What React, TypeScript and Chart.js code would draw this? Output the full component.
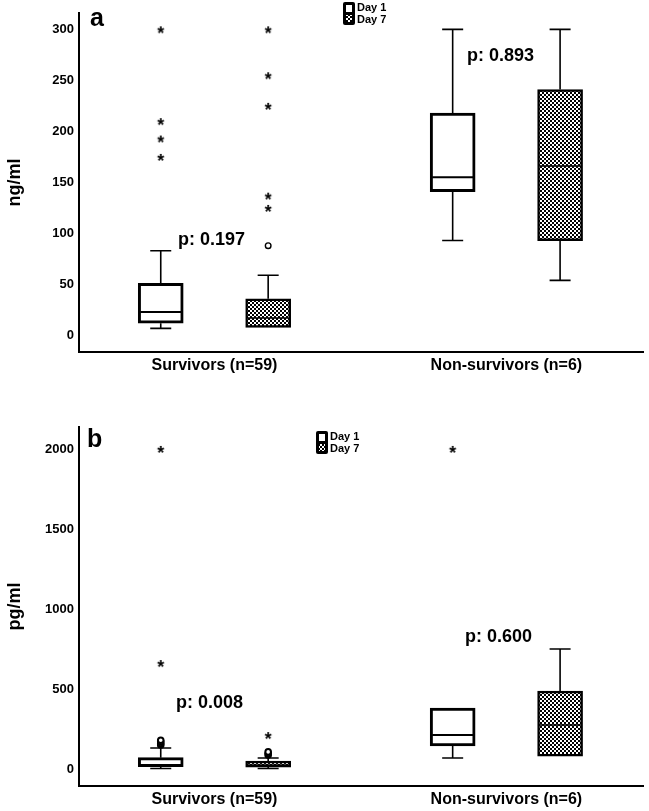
import React, { useEffect, useRef } from "react";
import { Chart, registerables } from "chart.js";
Chart.register(...registerables);

const FONT = "'Liberation Sans', Arial, Helvetica, sans-serif";

// ---------- data ----------
const groups = ["Survivors (n=59)", "Non-survivors (n=6)"];
const groupPositions = [1, 2];

// [lower whisker, Q1, median, Q3, upper whisker]
const aDay1 = [
  [7, 12, 23, 51, 83],
  [93, 141, 155, 218, 300],
];
const aDay7 = [
  [8, 8, 17, 36, 59],
  [54, 93, 166, 241, 300],
];
const aDay1Extremes = [[300, 210, 193, 175], []];
const aDay1Outliers = [[], []];
const aDay7Extremes = [[300, 255, 225, 137, 125], []];
const aDay7Outliers = [[88], []];
const aTicks = [0, 50, 100, 150, 200, 250, 300];
const aPValues = ["p: 0.197", "p: 0.893"];

const bDay1 = [
  [3, 14, 20, 71, 131],
  [69, 144, 212, 381, 381],
];
const bDay7 = [
  [3, 12, 25, 50, 69],
  [81, 81, 275, 487, 750],
];
const bDay1Extremes = [[2000, 662], [2000]];
const bDay1Outliers = [[150, 160, 170, 180], []];
const bDay7Extremes = [[212], []];
const bDay7Outliers = [[87, 97, 107], []];
const bTicks = [0, 500, 1000, 1500, 2000];
const bPValues = ["p: 0.008", "p: 0.600"];

const dayLabels = ["Day 1", "Day 7"];

// ---------- layout / style config ----------
const DAY_OFFSET = 0.184;
const BOX_HALF = 0.077;
const CAP_HALF = 0.036;
const X_MIN = 0.536;
const X_MAX = 2.468;

function makePattern(): CanvasPattern | string {
  const c = document.createElement("canvas");
  c.width = 4;
  c.height = 4;
  const g = c.getContext("2d")!;
  g.fillStyle = "#000";
  g.fillRect(0, 0, 4, 4);
  g.fillStyle = "#fff";
  g.fillRect(0, 0, 2, 2);
  g.fillRect(2, 2, 2, 2);
  return g.createPattern(c, "repeat") ?? "#444";
}

function makeAsterisk(): HTMLCanvasElement {
  const c = document.createElement("canvas");
  c.width = 12;
  c.height = 12;
  const g = c.getContext("2d")!;
  g.fillStyle = "#000";
  g.font = `bold 18px ${FONT}`;
  g.textAlign = "center";
  g.textBaseline = "alphabetic";
  const m = g.measureText("*");
  const asc = m.actualBoundingBoxAscent;
  const desc = m.actualBoundingBoxDescent;
  const y = 6 + (asc - desc) / 2;
  g.fillText("*", 6, y);
  return c;
}

type BoxDef = { pos: number; s: number[]; pattern: boolean };

const boxPlugin = {
  id: "boxWhiskers",
  beforeDatasetsDraw(chart: any, _a: any, opts: any) {
    const { ctx } = chart;
    const x = chart.scales.x;
    const y = chart.scales.y;
    const boxes: BoxDef[] = opts.boxes || [];
    ctx.save();
    ctx.strokeStyle = "#000";
    ctx.lineWidth = 1.6;
    for (const b of boxes) {
      const cx = x.getPixelForValue(b.pos);
      const half = x.getPixelForValue(b.pos + CAP_HALF) - cx;
      const [mn, q1, , q3, mx] = b.s.map((v) => y.getPixelForValue(v));
      ctx.beginPath();
      if (b.s[4] > b.s[3]) {
        ctx.moveTo(cx, q3);
        ctx.lineTo(cx, mx);
        ctx.moveTo(cx - half, mx);
        ctx.lineTo(cx + half, mx);
      }
      if (b.s[0] < b.s[1]) {
        ctx.moveTo(cx, q1);
        ctx.lineTo(cx, mn);
        ctx.moveTo(cx - half, mn);
        ctx.lineTo(cx + half, mn);
      }
      ctx.stroke();
    }
    ctx.restore();
  },
  afterDatasetsDraw(chart: any, _a: any, opts: any) {
    const { ctx } = chart;
    const x = chart.scales.x;
    const y = chart.scales.y;
    const boxes: BoxDef[] = opts.boxes || [];
    ctx.save();
    ctx.strokeStyle = "#000";
    for (const b of boxes) {
      const cx = x.getPixelForValue(b.pos);
      const bh = x.getPixelForValue(b.pos + BOX_HALF) - cx;
      const md = y.getPixelForValue(b.s[2]);
      ctx.lineWidth = b.pattern ? 1.5 : 2;
      ctx.beginPath();
      ctx.moveTo(cx - bh + 2, md);
      ctx.lineTo(cx + bh - 2, md);
      ctx.stroke();
    }
    ctx.restore();
  },
};

const decorPlugin = {
  id: "panelDecor",
  afterDraw(chart: any, _a: any, opts: any) {
    const { ctx } = chart;
    const x = chart.scales.x;
    const y = chart.scales.y;
    ctx.save();
    ctx.fillStyle = "#000";
    // panel letter
    ctx.font = `bold 25px ${FONT}`;
    ctx.textAlign = "left";
    ctx.textBaseline = "alphabetic";
    ctx.fillText(opts.letter, opts.letterX, opts.letterY);
    // p-values
    ctx.font = `bold 18px ${FONT}`;
    ctx.textAlign = "center";
    ctx.textBaseline = "middle";
    for (const p of opts.pTexts) {
      ctx.fillText(p.text, x.getPixelForValue(p.x), y.getPixelForValue(p.y));
    }
    // legend
    const lx = opts.legendX;
    const ly = opts.legendY;
    ctx.beginPath();
    if (ctx.roundRect) ctx.roundRect(lx, ly, 12, 23, 2);
    else ctx.rect(lx, ly, 12, 23);
    ctx.fill();
    ctx.fillStyle = "#fff";
    ctx.fillRect(lx + 3, ly + 3, 6, 7);
    ctx.fillStyle = opts.pattern;
    ctx.fillRect(lx + 3, ly + 13, 6, 7);
    ctx.fillStyle = "#000";
    ctx.font = `bold 11px ${FONT}`;
    ctx.textAlign = "left";
    ctx.textBaseline = "middle";
    ctx.fillText(dayLabels[0], lx + 14, ly + 6);
    ctx.fillText(dayLabels[1], lx + 14, ly + 17.5);
    ctx.restore();
  },
};

type PanelSpec = {
  day1: number[][];
  day7: number[][];
  day1Ext: number[][];
  day1Out: number[][];
  day7Ext: number[][];
  day7Out: number[][];
  ticks: number[];
  yMin: number;
  yMax: number;
  yTitle: string;
  pValues: string[];
  pPos: { x: number; y: number }[];
  letter: string;
  letterX: number;
  letterY: number;
  legendX: number;
  legendY: number;
  padTop: number;
  xAxisH: number;
  circleWidth: number;
};

function buildConfig(sp: PanelSpec, pattern: CanvasPattern | string, star: HTMLCanvasElement): any {
  const pts = (vals: number[][], off: number) =>
    vals.flatMap((arr, gi) => arr.map((v) => ({ x: groupPositions[gi] + off, y: v })));
  const bars = (vals: number[][], off: number) =>
    vals.map((s, gi) => ({ x: groupPositions[gi] + off, y: [s[1], s[3]] }));
  const boxes: BoxDef[] = [
    ...sp.day1.map((s, gi) => ({ pos: groupPositions[gi] - DAY_OFFSET, s, pattern: false })),
    ...sp.day7.map((s, gi) => ({ pos: groupPositions[gi] + DAY_OFFSET, s, pattern: true })),
  ];
  const starStyle = {
    type: "scatter",
    pointStyle: star,
    pointRadius: 5,
    borderColor: "#000",
    backgroundColor: "#000",
  };
  const circStyle = {
    type: "scatter",
    pointStyle: "circle",
    pointRadius: 2.8,
    borderWidth: sp.circleWidth,
    borderColor: "#000",
    backgroundColor: "#fff",
  };
  return {
    type: "bar",
    data: {
      datasets: [
        { ...starStyle, label: "Day 1 extremes", data: pts(sp.day1Ext, -DAY_OFFSET) },
        { ...starStyle, label: "Day 7 extremes", data: pts(sp.day7Ext, DAY_OFFSET) },
        { ...circStyle, label: "Day 1 outliers", data: pts(sp.day1Out, -DAY_OFFSET) },
        { ...circStyle, label: "Day 7 outliers", data: pts(sp.day7Out, DAY_OFFSET) },
        {
          type: "bar",
          label: dayLabels[0],
          data: bars(sp.day1, -DAY_OFFSET),
          backgroundColor: "#fff",
          borderColor: "#000",
          borderWidth: 3,
          borderSkipped: false,
          barThickness: 45,
          grouped: false,
        },
        {
          type: "bar",
          label: dayLabels[1],
          data: bars(sp.day7, DAY_OFFSET),
          backgroundColor: pattern,
          borderColor: "#000",
          borderWidth: 2.5,
          borderSkipped: false,
          barThickness: 45,
          grouped: false,
        },
      ],
    },
    plugins: [boxPlugin, decorPlugin],
    options: {
      responsive: false,
      animation: false,
      devicePixelRatio: 1,
      events: [],
      layout: { padding: { top: sp.padTop, right: 4, left: 0, bottom: 0 } },
      plugins: {
        legend: { display: false },
        tooltip: { enabled: false },
        boxWhiskers: { boxes },
        panelDecor: {
          letter: sp.letter,
          letterX: sp.letterX,
          letterY: sp.letterY,
          legendX: sp.legendX,
          legendY: sp.legendY,
          pattern,
          pTexts: sp.pValues.map((t, i) => ({ text: t, x: sp.pPos[i].x, y: sp.pPos[i].y })),
        },
      },
      scales: {
        x: {
          type: "linear",
          min: X_MIN,
          max: X_MAX,
          offset: false,
          grid: { display: false, drawTicks: false },
          border: { display: true, color: "#000", width: 2 },
          afterBuildTicks: (s: any) => {
            s.ticks = groupPositions.map((v) => ({ value: v }));
          },
          afterFit: (s: any) => {
            s.height = sp.xAxisH;
          },
          ticks: {
            color: "#000",
            font: { family: FONT, size: 16, weight: "bold" },
            padding: 4,
            maxRotation: 0,
            autoSkip: false,
            callback: (v: number) => {
              const i = groupPositions.indexOf(v);
              return i >= 0 ? groups[i] : "";
            },
          },
        },
        y: {
          type: "linear",
          min: sp.yMin,
          max: sp.yMax,
          grid: { display: false, drawTicks: false },
          border: { display: true, color: "#000", width: 2 },
          afterBuildTicks: (s: any) => {
            s.ticks = sp.ticks.map((v) => ({ value: v }));
          },
          afterFit: (s: any) => {
            s.width = 79;
          },
          ticks: {
            color: "#000",
            font: { family: FONT, size: 13, weight: "bold" },
            padding: 5,
            callback: (v: number) => String(v),
          },
          title: {
            display: true,
            text: sp.yTitle,
            color: "#000",
            font: { family: FONT, size: 18, weight: "bold" },
            padding: { top: 4, bottom: 0 },
          },
        },
      },
    },
  };
}

const panelA: PanelSpec = {
  day1: aDay1,
  day7: aDay7,
  day1Ext: aDay1Extremes,
  day1Out: aDay1Outliers,
  day7Ext: aDay7Extremes,
  day7Out: aDay7Outliers,
  ticks: aTicks,
  yMin: -16.2,
  yMax: 316.2,
  yTitle: "ng/ml",
  pValues: aPValues,
  pPos: [
    { x: 0.99, y: 94 },
    { x: 1.98, y: 274 },
  ],
  letter: "a",
  letterX: 90,
  letterY: 26,
  legendX: 343,
  legendY: 2,
  padTop: 3,
  xAxisH: 28,
  circleWidth: 1.4,
};

const panelB: PanelSpec = {
  day1: bDay1,
  day7: bDay7,
  day1Ext: bDay1Extremes,
  day1Out: bDay1Outliers,
  day7Ext: bDay7Extremes,
  day7Out: bDay7Outliers,
  ticks: bTicks,
  yMin: -106,
  yMax: 2137,
  yTitle: "pg/ml",
  pValues: bPValues,
  pPos: [
    { x: 0.983, y: 412 },
    { x: 1.973, y: 825 },
  ],
  letter: "b",
  letterX: 87,
  letterY: 47,
  legendX: 316,
  legendY: 31,
  padTop: 27,
  xAxisH: 25,
  circleWidth: 2,
};

function Panel({ spec, top, height }: { spec: PanelSpec; top: number; height: number }) {
  const ref = useRef<HTMLCanvasElement | null>(null);
  useEffect(() => {
    if (!ref.current) return;
    const pattern = makePattern();
    const star = makeAsterisk();
    const chart = new Chart(ref.current, buildConfig(spec, pattern, star));
    return () => chart.destroy();
  }, [spec]);
  return (
    <canvas
      ref={ref}
      width={649}
      height={height}
      style={{ position: "absolute", left: 0, top, width: 649, height }}
    />
  );
}

export default function App() {
  return (
    <div
      style={{
        position: "absolute",
        left: 0,
        top: 0,
        width: 649,
        height: 811,
        background: "#fff",
        overflow: "hidden",
      }}
    >
      <Panel spec={panelA} top={0} height={380} />
      <Panel spec={panelB} top={400} height={411} />
    </div>
  );
}
